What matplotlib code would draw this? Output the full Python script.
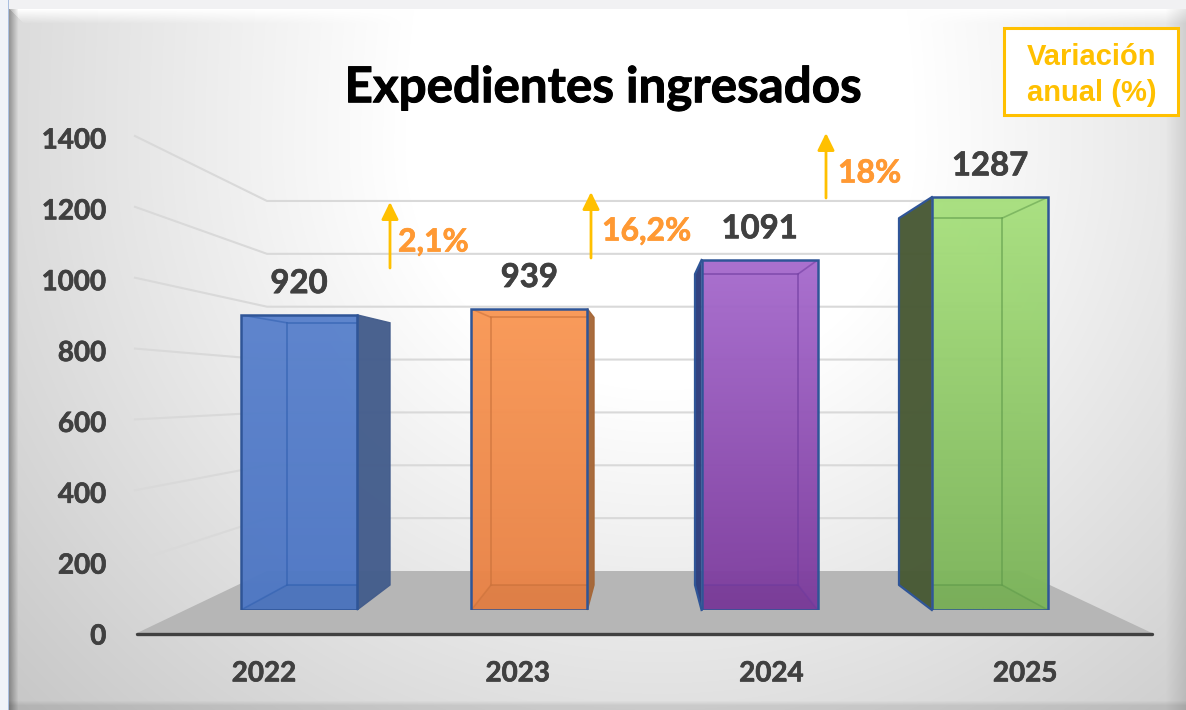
# plot.py
# Expedientes ingresados: pseudo 3D bars on a bevelled grey panel

import numpy as np
import matplotlib
matplotlib.use('Agg')
import matplotlib.pyplot as plt
import matplotlib.patheffects as pe
from matplotlib.colors import to_rgb
from matplotlib.patches import Polygon, Rectangle
from matplotlib.transforms import IdentityTransform

years = ['2022', '2023', '2024', '2025']
expedientes = [920, 939, 1091, 1287]
y_ticks = [0, 200, 400, 600, 800, 1000, 1200, 1400]
variaciones = ['2,1%', '16,2%', '18%']

# colours per bar: front top, front bottom, shaded side, inner lines
front_top = ['#5A82CC', '#F99856', '#A76CCE', '#A8E07E']
front_bottom = ['#4E77C4', '#E88347', '#7D3C9D', '#7CB45A']
side_colors = ['#445D8C', '#A66737', '#2C3C7C', '#485934']
inner_colors = ['#2F5FB0', '#C8703A', '#6E3A9E', '#5E9A4A']
edge_color = '#2F5597'
text_grey = '#404040'
orange = '#FF9933'
gold = '#FFC000'
bold_stroke = lambda c, w: [pe.withStroke(linewidth=w, foreground=c)]

W, H = 1186, 710
fig = plt.figure(figsize=(W / 100, H / 100), dpi=100)


def axes_px(left, top, right, bottom, zorder):
    """Axes placed by picture pixels, y counted from the top."""
    a = fig.add_axes([left / W, 1 - bottom / H, (right - left) / W, (bottom - top) / H], zorder=zorder)
    a.patch.set_visible(False)
    return a


# Panel background with bevels
ax_bg = axes_px(0, 0, W, H, 0)
yy, xx = np.mgrid[0:H, 0:W]
dy = np.where(yy < 150, (yy - 150) / 1800, (yy - 150) / 800)
dist = np.sqrt(((xx - 660) / 850) ** 2 + dy ** 2)
panel = 1 - 0.30 * np.clip(dist - 0.30, 0, None)
# top bevel is a white strip with a mitred corner
top_bevel = np.clip(1 - (yy - 9) / 14, 0, 1) * (xx - 9 > yy - 9)
panel = panel + (1 - panel) * top_bevel
panel = panel * (1 - 0.32 * np.clip(1 - (xx - 9) / 9, 0, 1))
panel = panel * (1 - 0.10 * np.clip((yy - 700) / 5, 0, 1))
panel = panel * (1 - 0.10 * np.clip((xx - 1165) / 20, 0, 1))
rgb = np.dstack([panel, panel, panel])
rgb[:9, :] = to_rgb('#F1F1F3')
rgb[:, :8] = to_rgb('#F0F3F8')
rgb[:, 8] = to_rgb('#A9BFE0')
ax_bg.imshow(rgb, extent=[0, W, H, 0], aspect='auto', interpolation='bilinear')
ax_bg.set_xlim(0, W)
ax_bg.set_ylim(H, 0)
ax_bg.axis('off')

# Floor of the 3D box
ax_bg.add_patch(Polygon([(135, 634), (267, 571), (1020, 571), (1154, 634)], color='#B6B6B6', lw=0))

# Wall: value scale of the back plane
ax_wall = axes_px(267, 571 - 1400 * 0.2643, 1020, 571, 1)
ax_wall.set_ylim(0, 1400)
ax_wall.set_xlim(0, 1)
ax_wall.axis('off')

# Value axis and categories of the front plane
ax_axis = axes_px(137, 138, 1152, 634, 1)
ax_axis.set_xlim(-0.5, 3.5)
ax_axis.set_ylim(0, 1400)
ax_axis.set_xticks(range(len(years)))
ax_axis.set_xticklabels(years)
ax_axis.set_yticks(y_ticks)
ax_axis.tick_params(length=0)
ax_axis.tick_params(axis='x', pad=19)
ax_axis.tick_params(axis='y', pad=22)
for lab in ax_axis.get_xticklabels() + ax_axis.get_yticklabels():
    lab.set_family('Lato')
    lab.set_weight('bold')
    lab.set_size(20)
    lab.set_color(text_grey)
    lab.set_path_effects(bold_stroke(text_grey, 0.5))
for s in ['top', 'left', 'right']:
    ax_axis.spines[s].set_visible(False)
ax_axis.spines['bottom'].set_color(text_grey)
ax_axis.spines['bottom'].set_linewidth(2.4)
ax_axis.spines['bottom'].set_capstyle('round')

# Gridlines: slanted on the left wall, flat on the back wall
for t in y_ticks[1:]:
    x0, y0 = ax_axis.transData.transform((-0.5, t))
    x1, y1 = ax_wall.transData.transform((0, t))
    x2, y2 = ax_wall.transData.transform((1, t))
    ax_bg.add_line(plt.Line2D([x0 - 2, x1, x2], [y0 + 2, y1, y2], transform=IdentityTransform(),
                              color='#D9D9D9', lw=1.5))

# Back plane and front plane of the bars
ax_back = axes_px(0, 585 - 1400 * 0.285, W, 585, 2)
ax_back.set_xlim(-338.5 / 204, (W - 338.5) / 204)
ax_back.set_ylim(0, 1400)
ax_back.axis('off')

ax_front = axes_px(0, 610 - 1400 * 0.3208, W, 610, 3)
ax_front.set_xlim(-299 / 230.3, (W - 299) / 230.3)
ax_front.set_ylim(0, 1400)
ax_front.axis('off')

BACK_W = 0.505
FRONT_W = 0.504
IDENT = IdentityTransform()

for i, v in enumerate(expedientes):
    fl = ax_front.transData.transform((i - FRONT_W / 2, 0))
    fr = ax_front.transData.transform((i + FRONT_W / 2, 0))
    ftl = ax_front.transData.transform((i - FRONT_W / 2, v))
    ftr = ax_front.transData.transform((i + FRONT_W / 2, v))
    bl = ax_back.transData.transform((i - BACK_W / 2, 0))
    br = ax_back.transData.transform((i + BACK_W / 2, 0))
    btl = ax_back.transData.transform((i - BACK_W / 2, v))
    btr = ax_back.transData.transform((i + BACK_W / 2, v))

    # shaded side, whichever side sticks out behind the front face
    if br[0] > fr[0]:
        ax_back.add_patch(Polygon([fr, ftr, btr, br], transform=IDENT, facecolor=side_colors[i],
                                  edgecolor=side_colors[i], lw=1, alpha=0.97, clip_on=False))
    if bl[0] < fl[0]:
        ax_back.add_patch(Polygon([fl, ftl, btl, bl], transform=IDENT, facecolor=side_colors[i],
                                  edgecolor='none', alpha=0.97, clip_on=False))
        ax_back.add_line(plt.Line2D([fl[0], bl[0], btl[0], ftl[0]], [fl[1], bl[1], btl[1], ftl[1]],
                                    transform=IDENT, color=edge_color, lw=1.6, clip_on=False))

ax_front.bar(range(len(years)), expedientes, width=FRONT_W, color='none', edgecolor='none')
for i, (bar, v) in enumerate(zip(ax_front.patches, expedientes)):
    shade = np.linspace(0, 1, 64)[:, None, None]
    grad = (1 - shade) * np.array(to_rgb(front_top[i])) + shade * np.array(to_rgb(front_bottom[i]))
    im = ax_front.imshow(grad, extent=[i - FRONT_W / 2, i + FRONT_W / 2, 0, v], aspect='auto',
                         interpolation='bilinear', alpha=0.97, zorder=1)
    im.set_clip_path(bar)

    fl = ax_front.transData.transform((i - FRONT_W / 2, 0))
    fr = ax_front.transData.transform((i + FRONT_W / 2, 0))
    ftl = ax_front.transData.transform((i - FRONT_W / 2, v))
    ftr = ax_front.transData.transform((i + FRONT_W / 2, v))
    bl = ax_back.transData.transform((i - BACK_W / 2, 0))
    br = ax_back.transData.transform((i + BACK_W / 2, 0))
    btl = ax_back.transData.transform((i - BACK_W / 2, v))
    btr = ax_back.transData.transform((i + BACK_W / 2, v))

    # inner box edges seen through the front, kept inside the front face
    floor_face = Polygon([fl, fr, br, bl], transform=IDENT, facecolor='black', alpha=0.03, lw=0, zorder=2)
    ax_front.add_patch(floor_face)
    floor_face.set_clip_path(bar)
    back_box = Polygon([bl, br, btr, btl], transform=IDENT, fill=False,
                       edgecolor=inner_colors[i], lw=1.4, alpha=0.55, zorder=2)
    ax_front.add_patch(back_box)
    back_box.set_clip_path(bar)
    for a, b in [(fl, bl), (fr, br), (ftl, btl), (ftr, btr)]:
        ln = plt.Line2D([a[0], b[0]], [a[1], b[1]], transform=IDENT,
                        color=inner_colors[i], lw=1.2, alpha=0.55, zorder=2)
        ax_front.add_line(ln)
        ln.set_clip_path(bar)
    ax_front.add_patch(Rectangle((i - FRONT_W / 2, 0), FRONT_W, v, fill=False,
                                 edgecolor=edge_color, lw=1.8, zorder=3))
    ax_front.annotate(str(v), (i, v), xytext=(0, 22.5), textcoords='offset points', ha='center',
                      va='center', family='Lato', weight='bold', size=23.7, color=text_grey,
                      path_effects=bold_stroke(text_grey, 0.5))

ax_front.set_xlim(-299 / 230.3, (W - 299) / 230.3)
ax_front.set_ylim(0, 1400)

# Overlay: title, arrows, legend box
ax_top = axes_px(0, 0, W, H, 4)
ax_top.set_xlim(0, W)
ax_top.set_ylim(H, 0)
ax_top.axis('off')

ax_top.text(603, 88, 'Expedientes ingresados', ha='center', va='center', family='Lato',
            weight='bold', size=35.5, color='black', path_effects=bold_stroke('black', 0.7))

arrow_x = [390, 591, 826]
arrow_y0 = [268, 258, 198]
arrow_y1 = [202, 192, 133]
label_x = [398, 602, 838]
label_y = [242, 231, 173]
for k, txt in enumerate(variaciones):
    ax_top.annotate('', xy=(arrow_x[k], arrow_y1[k]), xytext=(arrow_x[k], arrow_y0[k]),
                    arrowprops=dict(arrowstyle='-|>,head_length=0.65,head_width=0.32', color=gold,
                                    lw=2, shrinkA=0, shrinkB=0, mutation_scale=16))
    ax_top.text(label_x[k], label_y[k], txt, ha='left', va='center', family='Lato', weight='bold',
                size=23, color=orange, path_effects=bold_stroke(orange, 0.5))

ax_top.add_patch(Rectangle((1004, 28), 174, 87, facecolor='white', edgecolor=gold, lw=2.2))
ax_top.text(1091.5, 57, 'Variación', ha='center', va='center', family='Liberation Sans', weight='bold',
            size=21, color=gold)
ax_top.text(1091.5, 93, 'anual (%)', ha='center', va='center', family='Liberation Sans', weight='bold',
            size=21, color=gold)

fig.savefig('out.png', dpi=100)
